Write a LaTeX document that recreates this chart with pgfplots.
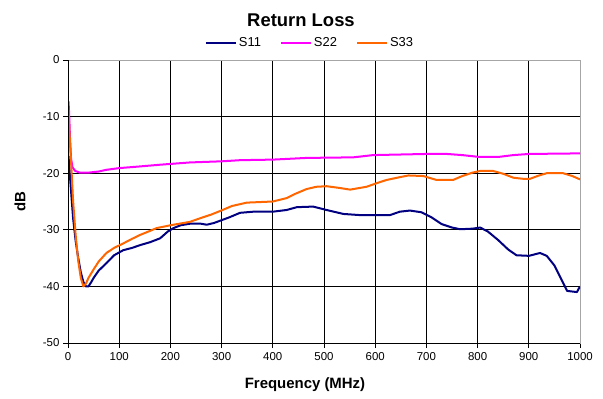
\documentclass[border=0pt]{standalone}
\usepackage{fontspec}
\setmainfont{Liberation Sans}
\usepackage{pgfplots}
\pgfplotsset{compat=1.18}
\definecolor{sone}{RGB}{0,0,128}
\definecolor{stwo}{RGB}{255,0,255}
\definecolor{sthree}{RGB}{255,102,0}
\begin{document}
\begin{tikzpicture}
\path[use as bounding box] (-68bp,-56bp) rectangle (535bp,343bp);
\begin{axis}[
  at={(0,0)}, anchor=south west,
  scale only axis, width=512bp, height=283bp,
  xmin=0, xmax=1000, ymin=-50, ymax=0,
  xtick={0,100,...,1000}, ytick={-50,-40,...,0},
  xticklabels={0,100,200,300,400,500,600,700,800,900,1000},
  yticklabels={-50,-40,-30,-20,-10,0},
  xtick pos=bottom, ytick pos=left,
  tick align=outside, major tick length=5bp,
  tick style={black, line width=0.8bp},
  ticklabel style={font=\fontsize{11.5}{13}\selectfont},
  xticklabel style={yshift=-1bp},
  grid=major, major grid style={black, line width=0.8bp},
  axis line style={gray!70, line width=1bp},
  xlabel={Frequency (MHz)}, ylabel={dB},
  label style={font=\fontsize{15}{17}\selectfont\bfseries},
  xlabel style={at={(axis description cs:0.5,0)}, anchor=center, yshift=-42bp, xshift=-19bp},
  ylabel style={at={(axis description cs:0,0.5)}, anchor=center, xshift=0bp, yshift=48bp},
  legend columns=3,
  legend style={at={(0.5,1)}, anchor=center, yshift=17bp, xshift=-14bp, draw=none, fill=none,
    font=\fontsize{13}{15}\selectfont, inner sep=0pt,
    /tikz/every even column/.append style={column sep=17bp}},
  legend image code/.code={\draw[#1] (0bp,0bp) -- (30bp,0bp);},
  every axis plot/.append style={line width=2bp, line join=round},
  after end axis/.code={
    \draw[black, line width=1bp] (rel axis cs:0,1) -- (rel axis cs:0,0) -- (rel axis cs:1,0);
    \node[font=\fontsize{18.5}{21}\selectfont\bfseries] at ([yshift=40bp, xshift=-23bp]rel axis cs:0.5,1) {Return Loss};
  },
]
\addplot[sone] coordinates {
(1,-17)(5,-22)(10,-28)(15,-32)(20,-35)(25,-37.5)(30,-39.2)(35,-40)(40,-40)(45,-39.3)(50,-38.5)(60,-37.2)(75,-35.9)(90,-34.5)(108,-33.6)(125,-33.2)(141,-32.7)(160,-32.2)(180,-31.5)(195,-30.3)(206,-29.7)(220,-29.2)(240,-28.9)(258,-28.9)(271,-29.1)(285,-28.8)(297,-28.4)(315,-27.8)(336,-27)(362,-26.8)(400,-26.8)(427,-26.5)(447,-26)(479,-25.9)(505,-26.5)(538,-27.2)(570,-27.4)(629,-27.4)(648,-26.8)(668,-26.6)(690,-26.9)(710,-27.8)(730,-29)(750,-29.6)(766,-29.9)(790,-29.8)(805,-29.6)(820,-30.3)(840,-31.8)(860,-33.5)(876,-34.5)(900,-34.6)(922,-34.1)(935,-34.6)(950,-36.3)(965,-39)(975,-40.8)(994,-41)(1000,-40)
};
\addlegendentry{S11}
\addplot[stwo] coordinates {
(1,-7.3)(2,-9)(4,-14)(6,-17.5)(9,-19)(14,-19.6)(23,-19.9)(40,-19.9)(60,-19.7)(75,-19.4)(100,-19.1)(141,-18.8)(180,-18.5)(238,-18.1)(300,-17.9)(336,-17.7)(400,-17.6)(466,-17.3)(557,-17.2)(596,-16.8)(648,-16.7)(700,-16.6)(740,-16.6)(770,-16.8)(800,-17.1)(843,-17.1)(870,-16.8)(900,-16.6)(1000,-16.5)
};
\addlegendentry{S22}
\addplot[sthree] coordinates {
(1,-8.8)(3,-13)(6,-18)(10,-25)(15,-31)(20,-35.5)(25,-38.5)(30,-40)(35,-39.5)(40,-38.5)(50,-37)(60,-35.6)(75,-34.1)(90,-33.2)(108,-32.4)(125,-31.6)(141,-30.9)(160,-30.2)(173,-29.7)(200,-29.2)(238,-28.6)(260,-27.9)(280,-27.3)(302,-26.5)(320,-25.8)(349,-25.2)(400,-25)(427,-24.4)(445,-23.6)(466,-22.8)(485,-22.4)(505,-22.3)(530,-22.6)(551,-22.9)(583,-22.4)(605,-21.7)(622,-21.2)(648,-20.7)(665,-20.4)(694,-20.5)(720,-21.2)(752,-21.2)(770,-20.5)(790,-19.9)(805,-19.6)(830,-19.6)(850,-20.1)(870,-20.8)(890,-21)(902,-21)(920,-20.4)(935,-20)(967,-20)(985,-20.5)(1000,-21.1)
};
\addlegendentry{S33}
\end{axis}
\end{tikzpicture}
\end{document}
